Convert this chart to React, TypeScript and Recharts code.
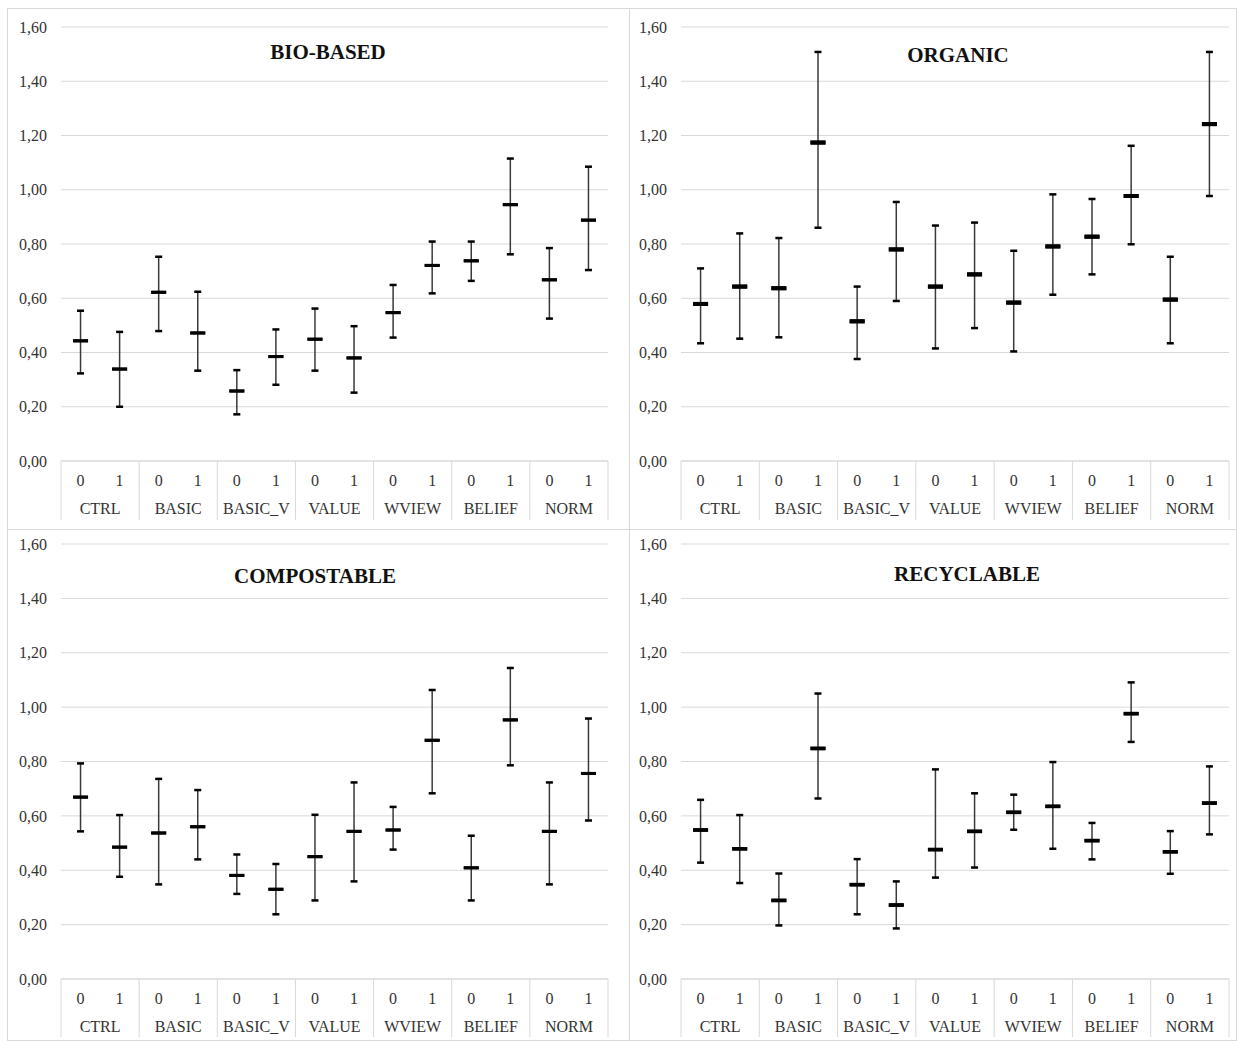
import React from "react";
import {
  ComposedChart,
  Line,
  ErrorBar,
  XAxis,
  YAxis,
  CartesianGrid,
} from "recharts";

// groups along the x axis, each split into 0 / 1
const GROUPS = ["CTRL", "BASIC", "BASIC_V", "VALUE", "WVIEW", "BELIEF", "NORM"];
const LEVELS = ["0", "1"];
const Y_TICKS = [0, 0.2, 0.4, 0.6, 0.8, 1.0, 1.2, 1.4, 1.6];

// BIO-BASED
const bioMean = [0.443, 0.339, 0.622, 0.472, 0.258, 0.385, 0.449, 0.38, 0.547, 0.721, 0.738, 0.945, 0.668, 0.888];
const bioLow = [0.323, 0.2, 0.479, 0.333, 0.172, 0.281, 0.333, 0.252, 0.455, 0.618, 0.664, 0.762, 0.525, 0.704];
const bioHigh = [0.554, 0.476, 0.753, 0.624, 0.335, 0.485, 0.562, 0.497, 0.649, 0.809, 0.809, 1.115, 0.785, 1.085];

// ORGANIC
const orgMean = [0.579, 0.643, 0.637, 1.174, 0.515, 0.78, 0.643, 0.688, 0.584, 0.791, 0.827, 0.977, 0.595, 1.242];
const orgLow = [0.434, 0.451, 0.456, 0.86, 0.376, 0.59, 0.415, 0.49, 0.404, 0.613, 0.688, 0.799, 0.434, 0.977];
const orgHigh = [0.71, 0.839, 0.822, 1.508, 0.643, 0.955, 0.868, 0.879, 0.775, 0.983, 0.966, 1.162, 0.753, 1.508];

// COMPOSTABLE
const compMean = [0.669, 0.485, 0.537, 0.56, 0.381, 0.33, 0.45, 0.543, 0.548, 0.878, 0.409, 0.953, 0.543, 0.756];
const compLow = [0.543, 0.376, 0.348, 0.44, 0.313, 0.238, 0.289, 0.359, 0.476, 0.683, 0.289, 0.786, 0.348, 0.583];
const compHigh = [0.793, 0.603, 0.736, 0.695, 0.458, 0.423, 0.604, 0.723, 0.633, 1.063, 0.527, 1.144, 0.723, 0.958];

// RECYCLABLE
const recMean = [0.548, 0.479, 0.289, 0.848, 0.347, 0.272, 0.476, 0.543, 0.613, 0.635, 0.509, 0.976, 0.468, 0.647];
const recLow = [0.428, 0.353, 0.197, 0.664, 0.238, 0.186, 0.373, 0.41, 0.549, 0.479, 0.44, 0.872, 0.387, 0.532];
const recHigh = [0.659, 0.603, 0.388, 1.05, 0.441, 0.359, 0.771, 0.683, 0.678, 0.798, 0.574, 1.091, 0.544, 0.782];

const FONT = '"Liberation Serif", "Times New Roman", serif';
const GRID = "#d9d9d9";
const TEXT = "#333";

function buildData(mean: number[], low: number[], high: number[]) {
  const rows: any[] = [];
  GROUPS.forEach((g, i) => {
    LEVELS.forEach((lv, j) => {
      const k = i * 2 + j;
      rows.push({
        key: `${g}-${lv}`,
        group: g,
        level: lv,
        mean: mean[k],
        low: low[k],
        high: high[k],
        err: [mean[k] - low[k], high[k] - mean[k]],
      });
    });
  });
  return rows;
}

const fmt = (v: number) => v.toFixed(2).replace(".", ",");

type PanelProps = {
  title: string;
  mean: number[];
  low: number[];
  high: number[];
  left: number;
  top: number;
  width: number;
  height: number;
  yAxisWidth: number;
  marginTop: number;
  marginRight: number;
  xAxisHeight: number;
  boxHeight: number;
  titleX: number;
  titleY: number;
  dashH: number;
};

function Panel(p: PanelProps) {
  const data = buildData(p.mean, p.low, p.high);
  const plotW = p.width - p.yAxisWidth - p.marginRight;
  const band = plotW / data.length;

  const tick = (props: any) => {
    const { x, y, index } = props;
    const row = data[index];
    if (!row) return <g />;
    return (
      <g>
        <text x={x} y={y + 19} dy="0.35em" textAnchor="middle" fontSize={16} fill={TEXT} fontFamily={FONT}>
          {row.level}
        </text>
        {index % 2 === 0 && (
          <>
            <text x={x + band / 2} y={y + 47} dy="0.35em" textAnchor="middle" fontSize={16} fill={TEXT} fontFamily={FONT}>
              {row.group}
            </text>
            <line x1={x - band / 2} x2={x - band / 2} y1={y} y2={y + p.boxHeight} stroke={GRID} />
          </>
        )}
        {index === data.length - 1 && (
          <line x1={x + band / 2} x2={x + band / 2} y1={y} y2={y + p.boxHeight} stroke={GRID} />
        )}
      </g>
    );
  };

  const dash = (w: number, h: number) => (props: any) => {
    const { cx, cy, index } = props;
    if (cx == null || cy == null) return <g key={index} />;
    return <rect key={index} x={cx - w / 2} y={cy - h / 2} width={w} height={h} fill="#000" />;
  };

  return (
    <>
      <div style={{ position: "absolute", left: p.left, top: p.top }}>
        <ComposedChart
          width={p.width}
          height={p.height}
          data={data}
          margin={{ top: p.marginTop, right: p.marginRight, bottom: 0, left: 0 }}
        >
          <CartesianGrid vertical={false} stroke={GRID} strokeWidth={1} />
          <XAxis
            dataKey="key"
            scale="band"
            height={p.xAxisHeight}
            tick={tick}
            tickLine={false}
            tickSize={0}
            tickMargin={0}
            interval={0}
            axisLine={{ stroke: GRID }}
          />
          <YAxis
            domain={[0, 1.6]}
            ticks={Y_TICKS}
            width={p.yAxisWidth}
            tickFormatter={fmt}
            axisLine={false}
            tickLine={false}
            tickSize={6}
            tickMargin={8}
            tick={{ fontSize: 16, fill: TEXT, fontFamily: FONT }}
          />
          <Line
            dataKey="mean"
            stroke="none"
            isAnimationActive={false}
            dot={dash(15, p.dashH)}
            activeDot={false}
          >
            <ErrorBar dataKey="err" direction="y" width={0} stroke="#3a3a3a" strokeWidth={1.5} />
          </Line>
          <Line dataKey="high" stroke="none" isAnimationActive={false} dot={dash(7, 2.5)} activeDot={false} />
          <Line dataKey="low" stroke="none" isAnimationActive={false} dot={dash(7, 2.5)} activeDot={false} />
          <Line dataKey="mean" stroke="none" isAnimationActive={false} dot={dash(15, p.dashH)} activeDot={false} />
        </ComposedChart>
      </div>
      <div
        style={{
          position: "absolute",
          left: p.titleX,
          top: p.titleY,
          transform: "translate(-50%, -50%)",
          fontFamily: FONT,
          fontWeight: "bold",
          fontSize: 21,
          lineHeight: 1,
          color: "#111",
          whiteSpace: "nowrap",
        }}
      >
        {p.title}
      </div>
    </>
  );
}

const frame = (left: number, top: number, width: number, height: number) => (
  <div
    style={{
      position: "absolute",
      left,
      top,
      width,
      height,
      boxSizing: "border-box",
      border: `1px solid ${GRID}`,
    }}
  />
);

export default function App() {
  return (
    <div
      style={{
        position: "absolute",
        left: 0,
        top: 0,
        width: 1237,
        height: 1041,
        background: "#fff",
        overflow: "hidden",
      }}
    >
      {frame(7, 8, 623, 522)}
      {frame(629, 8, 608, 522)}
      {frame(7, 529, 623, 512)}
      {frame(629, 529, 608, 512)}

      <Panel
        title="BIO-BASED"
        mean={bioMean}
        low={bioLow}
        high={bioHigh}
        left={7}
        top={8}
        width={623}
        height={522}
        yAxisWidth={54}
        marginTop={19}
        marginRight={22}
        xAxisHeight={69}
        boxHeight={59}
        titleX={328}
        titleY={52}
        dashH={3}
      />
      <Panel
        title="ORGANIC"
        mean={orgMean}
        low={orgLow}
        high={orgHigh}
        left={629}
        top={8}
        width={608}
        height={522}
        yAxisWidth={52}
        marginTop={19}
        marginRight={8}
        xAxisHeight={69}
        boxHeight={59}
        titleX={958}
        titleY={55}
        dashH={4}
      />
      <Panel
        title="COMPOSTABLE"
        mean={compMean}
        low={compLow}
        high={compHigh}
        left={7}
        top={529}
        width={623}
        height={512}
        yAxisWidth={54}
        marginTop={15}
        marginRight={22}
        xAxisHeight={62}
        boxHeight={58}
        titleX={315}
        titleY={576}
        dashH={3}
      />
      <Panel
        title="RECYCLABLE"
        mean={recMean}
        low={recLow}
        high={recHigh}
        left={629}
        top={529}
        width={608}
        height={512}
        yAxisWidth={52}
        marginTop={15}
        marginRight={8}
        xAxisHeight={62}
        boxHeight={58}
        titleX={967}
        titleY={574}
        dashH={3.5}
      />
    </div>
  );
}
